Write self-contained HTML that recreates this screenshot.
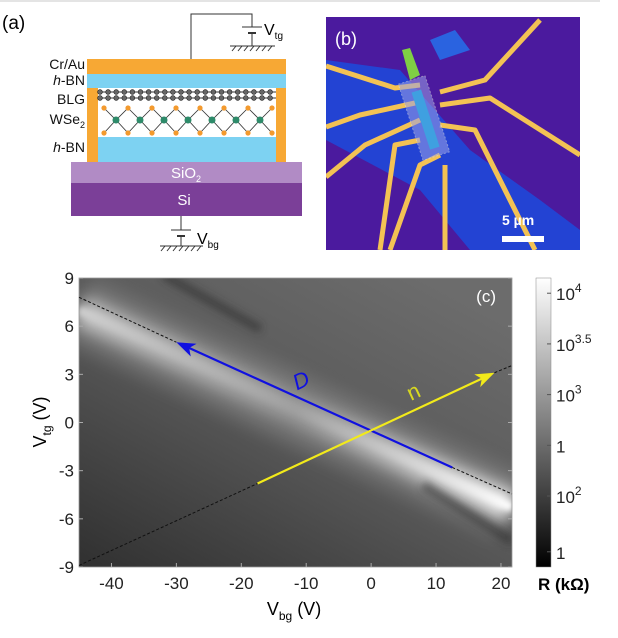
<!DOCTYPE html>
<html><head><meta charset="utf-8">
<style>
html,body{margin:0;padding:0;background:#fff;}
body{width:618px;height:633px;overflow:hidden;position:relative;font-family:"Liberation Sans",sans-serif;}
svg text{font-family:"Liberation Sans",sans-serif;}
</style></head>
<body>
<svg id="fig" width="618" height="633" viewBox="0 0 618 633" xmlns="http://www.w3.org/2000/svg">
<defs>
  <filter id="blur6" x="-20%" y="-50%" width="140%" height="200%"><feGaussianBlur stdDeviation="8"/></filter>
  <filter id="blur3" x="-20%" y="-50%" width="140%" height="200%"><feGaussianBlur stdDeviation="3"/></filter>
  <filter id="blur2" x="-20%" y="-50%" width="140%" height="200%"><feGaussianBlur stdDeviation="4"/></filter>
  <linearGradient id="bg" x1="0" y1="1" x2="0.8" y2="0">
    <stop offset="0" stop-color="#303030"/><stop offset="0.5" stop-color="#575757"/><stop offset="1" stop-color="#6c6c6c"/>
  </linearGradient>
  <linearGradient id="bandg" gradientUnits="userSpaceOnUse" x1="79" y1="0" x2="512" y2="0">
    <stop offset="0" stop-color="#cfcfcf"/><stop offset="0.5" stop-color="#a0a0a0"/><stop offset="1" stop-color="#ffffff"/>
  </linearGradient>
  <linearGradient id="cbar" x1="0" y1="1" x2="0" y2="0">
    <stop offset="0" stop-color="#000"/><stop offset="1" stop-color="#fff"/>
  </linearGradient>
  <clipPath id="plotclip"><rect x="79" y="278" width="433" height="289"/></clipPath>
  <clipPath id="photoclip"><rect x="326" y="17" width="254" height="233"/></clipPath>
</defs>
<line x1="0" y1="1" x2="600" y2="1" stroke="#e4e4e4" stroke-width="2"/>

<g>
  <text x="2" y="29" font-size="19">(a)</text>
  <polyline points="191,59 191,14 252,14 252,27" fill="none" stroke="#333" stroke-width="1"/>
  <line x1="242" y1="27" x2="262" y2="27" stroke="#333"/>
  <line x1="248" y1="33" x2="256" y2="33" stroke="#333" stroke-width="2"/>
  <line x1="252" y1="33" x2="252" y2="46" stroke="#333"/>
  <line x1="230" y1="46" x2="275" y2="46" stroke="#333"/>
  <path d="M232,51 l4,-5 M238,51 l4,-5 M244,51 l4,-5 M250,51 l4,-5 M256,51 l4,-5 M262,51 l4,-5 M268,51 l4,-5" stroke="#333"/>
  <text x="264" y="35" font-size="16">V<tspan font-size="10" dy="4">tg</tspan></text>
  <rect x="87" y="59" width="199" height="15" fill="#f7a834"/>
  <rect x="87" y="74" width="199" height="14" fill="#7dd2f2"/>
  <rect x="87" y="88" width="11" height="74" fill="#f7a834"/>
  <rect x="276" y="88" width="10" height="74" fill="#f7a834"/>
  <rect x="98" y="137" width="178" height="25" fill="#7dd2f2"/>
  <g id="atoms"></g>
  <rect x="71" y="162" width="231" height="21" fill="#b18bc5"/>
  <text x="186" y="178" font-size="15" fill="#fff" text-anchor="middle">SiO<tspan font-size="9" dy="4">2</tspan></text>
  <rect x="71" y="183" width="231" height="33" fill="#7b3f98"/>
  <text x="184" y="205" font-size="15" fill="#fff" text-anchor="middle">Si</text>
  <line x1="181" y1="216" x2="181" y2="230" stroke="#333"/>
  <line x1="171" y1="230" x2="191" y2="230" stroke="#333"/>
  <line x1="177" y1="236" x2="185" y2="236" stroke="#333" stroke-width="2"/>
  <line x1="181" y1="236" x2="181" y2="246" stroke="#333"/>
  <line x1="160" y1="246" x2="203" y2="246" stroke="#333"/>
  <path d="M161,251 l4,-5 M167,251 l4,-5 M173,251 l4,-5 M179,251 l4,-5 M185,251 l4,-5 M191,251 l4,-5 M197,251 l4,-5" stroke="#333"/>
  <text x="197" y="244" font-size="16">V<tspan font-size="10" dy="4">bg</tspan></text>
  <g font-size="14" text-anchor="end" fill="#111">
    <text x="85" y="69">Cr/Au</text>
    <text x="85" y="85"><tspan font-style="italic">h</tspan>-BN</text>
    <text x="85" y="104">BLG</text>
    <text x="85" y="124">WSe<tspan font-size="9" dy="4">2</tspan></text>
    <text x="85" y="152"><tspan font-style="italic">h</tspan>-BN</text>
  </g>
</g>

<g clip-path="url(#photoclip)">
  <rect x="326" y="17" width="254" height="233" fill="#4b1a9e"/>
  <polygon points="326,60 400,70 470,150 540,200 580,230 580,250 470,250 420,190 326,140" fill="#1f48d8" opacity="0.9"/>
  <polygon points="430,40 455,30 470,50 440,60" fill="#2a63e0"/>
  <polygon points="402,50 410,48 420,75 410,80" fill="#7fcf44"/>
  <g stroke="#f3c254" stroke-width="5" fill="none" stroke-linejoin="round">
    <polyline points="326,66 395,88 420,85"/>
    <polyline points="326,127 360,115 415,103"/>
    <polyline points="326,177 365,145 420,120"/>
    <polyline points="380,250 395,145 420,140"/>
    <polyline points="390,250 420,165 440,155"/>
    <polyline points="445,250 445,165"/>
    <polyline points="535,250 475,130 440,125"/>
    <polyline points="580,155 490,98 440,105"/>
    <polyline points="540,20 485,80 440,92"/>
  </g>
  <rect x="410" y="78" width="28" height="80" fill="#9aa0e8" opacity="0.55" transform="rotate(-18 424 118)" stroke="#ddd" stroke-dasharray="2 2"/>
  <rect x="420" y="90" width="10" height="60" fill="#3fa0e0" transform="rotate(-18 424 118)"/>
  <text x="335" y="45" font-size="18" fill="#fff">(b)</text>
  <text x="502" y="225" font-size="14" fill="#fff" font-weight="bold">5 µm</text>
  <rect x="502" y="236" width="42" height="6" fill="#fff"/>
</g>

<g id="plot">
  <g clip-path="url(#plotclip)" id="heat">
    <rect x="79" y="278" width="433" height="289" fill="url(#bg)"/>
  </g>
  <rect x="79" y="278" width="433" height="289" fill="none" stroke="#999" stroke-width="0.8"/>
  <g id="marks"></g>
  <g id="axes"></g>
  <text x="496" y="302" font-size="17" fill="#fff" text-anchor="end">(c)</text>
  <text x="294" y="615" font-size="18" text-anchor="middle">V<tspan font-size="12" dy="5">bg</tspan><tspan dy="-5"> (V)</tspan></text>
  <text transform="translate(46 422) rotate(-90)" font-size="18" text-anchor="middle">V<tspan font-size="12" dy="5">tg</tspan><tspan dy="-5"> (V)</tspan></text>
  <rect x="536" y="278" width="15" height="289" fill="url(#cbar)" stroke="#888" stroke-width="0.5"/>
  <g id="cbticks"></g>
  <text x="538" y="590" font-size="17" font-weight="bold">R (kΩ)</text>
</g>
</svg>
<script>
const NS='http://www.w3.org/2000/svg';
// ---- chart data ----
const xTicks=[-40,-30,-20,-10,0,10,20];
const yTicks=[-9,-6,-3,0,3,6,9];
const cnpX=[-45,21.7];
const cnpY=[7.0,-5.3];
const darkStreakX=[-32,-17,8,21.7];
const darkStreakY=[9.2,5.8,-3.9,-7.4];
const dArrowX=[12.5,-30];
const dArrowY=[-2.8,5.0];
const nArrowX=[-17.5,19];
const nArrowY=[-3.8,3.1];
const dDashX=[-45,-30,12.5,21.7];
const dDashY=[7.8,5.0,-2.8,-4.45];
const nDashX=[-45,-17.5,19,21.7];
const nDashY=[-8.9,-3.8,3.1,3.55];
const cbLabels=['10^4','10^3.5','10^3','1','10^2','1'];
const cbLevels=[4,3.5,3,2.5,2,1.45];
// ---- axes ----
const xMin=-45,xMax=21.7,yMin=-9,yMax=9;
const L=79,R=512,T=278,B=567;
const sx=v=>L+(v-xMin)/(xMax-xMin)*(R-L);
const sy=v=>B-(v-yMin)/(yMax-yMin)*(B-T);
function mk(tag,attrs,parent){const e=document.createElementNS(NS,tag);for(const k in attrs)e.setAttribute(k,attrs[k]);parent.appendChild(e);return e;}
const heat=document.getElementById('heat'),marks=document.getElementById('marks'),axes=document.getElementById('axes');
let b0=mk('line',{x1:sx(cnpX[0]),y1:sy(cnpY[0]),x2:sx(cnpX[1]),y2:sy(cnpY[1]),stroke:'#9a9a9a','stroke-width':70,filter:'url(#blur6)',opacity:0.35},heat);


let b1=mk('line',{x1:sx(cnpX[0]),y1:sy(cnpY[0]),x2:sx(cnpX[1]),y2:sy(cnpY[1]),stroke:'url(#bandg)','stroke-width':30,filter:'url(#blur6)',opacity:0.9},heat);


let b2=mk('line',{x1:sx(cnpX[0]),y1:sy(cnpY[0]),x2:sx(cnpX[1]),y2:sy(cnpY[1]),stroke:'url(#bandg)','stroke-width':9,filter:'url(#blur3)'},heat);


for(let i=0;i<darkStreakX.length;i+=2){
  let s=mk('line',{x1:sx(darkStreakX[i]),y1:sy(darkStreakY[i]),x2:sx(darkStreakX[i+1]),y2:sy(darkStreakY[i+1]),stroke:'#2a2a2a','stroke-width':9,filter:'url(#blur2)',opacity:0.55},heat);
  
  
}
function dash(xs,ys,name){
  for(let i=0;i<xs.length;i+=2){
    let l=mk('line',{x1:sx(xs[i]),y1:sy(ys[i]),x2:sx(xs[i+1]),y2:sy(ys[i+1]),stroke:'#111','stroke-width':1,'stroke-dasharray':'3 2'},marks);
    
    
  }
}
dash(dDashX,dDashY,'d-dashed-extension');
dash(nDashX,nDashY,'n-dashed-extension');
function arrow(xs,ys,col,name){
  const x1=sx(xs[0]),y1=sy(ys[0]),x2=sx(xs[1]),y2=sy(ys[1]);
  const a=Math.atan2(y2-y1,x2-x1),h=16,w=7;
  const bx=x2-h*Math.cos(a),by=y2-h*Math.sin(a);
  let l=mk('line',{x1:x1,y1:y1,x2:bx+4*Math.cos(a),y2:by+4*Math.sin(a),stroke:col,'stroke-width':2.2},marks);
  
  
  const p=[[x2,y2],[bx-w*Math.sin(a)-3*Math.cos(a),by+w*Math.cos(a)-3*Math.sin(a)],[bx+2*Math.cos(a),by+2*Math.sin(a)],[bx+w*Math.sin(a)-3*Math.cos(a),by-w*Math.cos(a)-3*Math.sin(a)]];
  let hd=mk('polygon',{points:p.map(q=>q.join(',')).join(' '),fill:col},marks);
  
  
}
arrow(dArrowX,dArrowY,'#1010e0','d-arrow');
arrow(nArrowX,nArrowY,'#f2ea1a','n-arrow');
let dl=mk('text',{x:sx(-10.3),y:sy(2.2),'font-size':22,fill:'#1010e0',transform:`rotate(-25 ${sx(-10.3)} ${sy(2.2)})`,'text-anchor':'middle','font-style':'italic'},marks);
dl.textContent='D';


let nl=mk('text',{x:sx(7),y:sy(1.5),'font-size':22,fill:'#d8d820',transform:`rotate(-25 ${sx(7)} ${sy(1.5)})`,'text-anchor':'middle'},marks);
nl.textContent='n';


xTicks.forEach(v=>{
  let t=mk('line',{x1:sx(v),y1:B,x2:sx(v),y2:B-4,stroke:'#aaa'},axes);
  
  
  let tx=mk('text',{x:sx(v),y:B+22,'font-size':17,'text-anchor':'middle',fill:'#222'},axes);
  tx.textContent=v;
  
  
});
yTicks.forEach(v=>{
  let t=mk('line',{x1:L,y1:sy(v),x2:L+4,y2:sy(v),stroke:'#aaa'},axes);
  
  
  let t2=mk('line',{x1:R,y1:sy(v),x2:R-4,y2:sy(v),stroke:'#aaa'},axes);
  
  
  let tx=mk('text',{x:L-5,y:sy(v)+6,'font-size':17,'text-anchor':'end',fill:'#222'},axes);
  tx.textContent=v;
  
  
});
const cbs=v=>B-(v-1.3)/(4.15-1.3)*(B-T);
const cbg=document.getElementById('cbticks');
cbLabels.forEach((lab,i)=>{
  const y=cbs(cbLevels[i]);
  let t=mk('line',{x1:551,y1:y,x2:547,y2:y,stroke:'#555'},cbg);
  
  
  let tx=mk('text',{x:556,y:y+7,'font-size':17,fill:'#222'},cbg);
  
  
  if(lab.startsWith('10^')){
    tx.textContent='10';
    let sp=mk('tspan',{'font-size':12,dy:-8},tx);sp.textContent=lab.slice(3);
  } else tx.textContent=lab;
});
const atoms=document.getElementById('atoms');
for(let r=0;r<2;r++){
  mk('line',{x1:99,y1:92+r*6,x2:276,y2:92+r*6,stroke:'#333','stroke-width':1},atoms);
  for(let x=100;x<=276;x+=8.1){mk('circle',{cx:x,cy:92+r*6,r:2.4,fill:'#666',stroke:'#222','stroke-width':0.6},atoms);}
}
for(let k=0;k<7;k++){
  const cx=116+k*24;
  mk('path',{d:`M${cx-12},108 L${cx},120 L${cx+12},108 M${cx-12},133 L${cx},120 L${cx+12},133`,stroke:'#333','stroke-width':0.8,fill:'none'},atoms);
  mk('circle',{cx:cx,cy:120,r:3.5,fill:'#2e8b6a'},atoms);
}
for(let k=0;k<8;k++){const cx=104+k*24;mk('circle',{cx:cx,cy:108,r:2.6,fill:'#f39a2e'},atoms);mk('circle',{cx:cx,cy:133,r:2.6,fill:'#f39a2e'},atoms);}
</script>
</body></html>
